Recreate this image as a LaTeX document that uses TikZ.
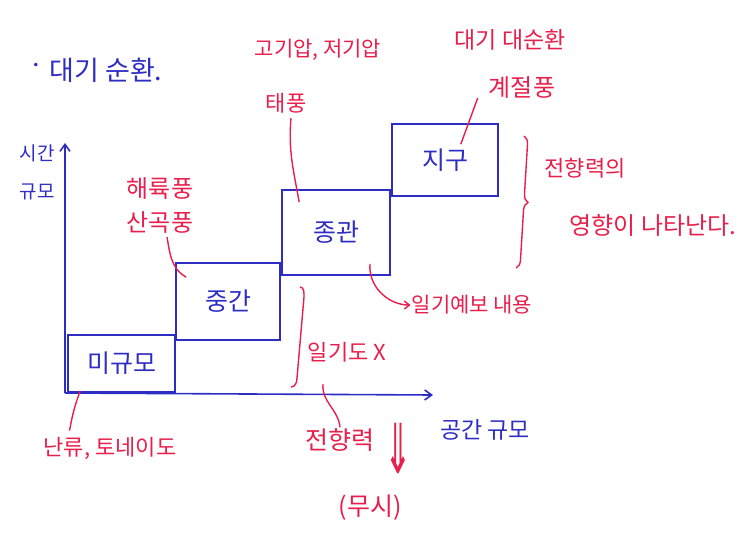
\documentclass[tikz,border=0pt]{standalone}
\usepackage{fontspec}
\newfontfamily\kr{Noto Sans CJK KR}
\newfontfamily\sym{DejaVu Sans}
\usetikzlibrary{arrows.meta,decorations.pathreplacing,calc}
\definecolor{pen}{RGB}{45,45,195}
\definecolor{ink}{RGB}{232,30,75}
\begin{document}
\begin{tikzpicture}[x=1pt,y=-1pt,
  btxt/.style={text=pen,font=\kr\fontsize{#1}{#1}\selectfont,inner sep=1pt},
  btxt/.default=20,
  rtxt/.style={text=ink,font=\kr\fontsize{#1}{#1}\selectfont,inner sep=1pt},
  rtxt/.default=21,
  scalebox/.style={draw=pen,line width=1.6pt,text=pen,font=\kr\fontsize{25}{28}\selectfont,inner sep=0pt},
  axis/.style={draw=pen,line width=1.6pt,-{Straight Barb[length=7pt,width=10pt]}},
  redline/.style={draw=ink,line width=1.4pt},
  redarrow/.style={redline,-{Straight Barb[length=5pt,width=8pt]}}]
\useasboundingbox (0,0) rectangle (743,538);
% axes
\coordinate (o) at (65,393);
\coordinate (ytip) at (65,143);
\coordinate (xtip) at (433,395);
\draw[axis] (o) -- (ytip);
\draw[axis] (o) -- (xtip);
% boxes
\node[scalebox,minimum width=107pt,minimum height=57pt] (mi) at (121.5,363.5) {미규모};
\node[scalebox,minimum width=104pt,minimum height=77pt] (jung) at (228,301.5) {중간};
\node[scalebox,minimum width=108pt,minimum height=85pt] (jong) at (336,232.5) {종관};
\node[scalebox,minimum width=106pt,minimum height=72pt] (jigu) at (445,160) {지구};
% blue texts
\node[text=pen,font=\sym\fontsize{12}{12}\selectfont] (bul) at (36,66) {•};
\node[btxt=27] (title) at (106,70) {대기 순환.};
\node[btxt=18,align=center,font=\kr\fontsize{19}{38}\selectfont] (ylab) at (37,172) {시간\\규모};
\node[btxt=23] (xlab) at (485,430) {공간 규모};
% red texts
\node[rtxt=21] (gogi) at (318,50) {고기압, 저기압};
\node[rtxt=22] (typh) at (286,103) {태풍};
\node[rtxt=23] (daegi) at (510,40) {대기 대순환};
\node[rtxt=24] (gyeol) at (522,88) {계절풍};
\node[rtxt=24,align=center,font=\kr\fontsize{24}{34}\selectfont] (haeryuk) at (160,206) {해륙풍\\산곡풍};
\node[rtxt=22] (ef1) at (585,168) {전향력의};
\node[rtxt=24] (ef2) at (653,225) {영향이 나타난다.};
\node[rtxt=21] (ilgi) at (472,305) {일기예보 내용};
\node[rtxt=22] (ilgido) at (347,352) {일기도 X};
\node[rtxt=25] (jeon) at (340,440) {전향력};
\node[text=ink,inner sep=0pt] (darr) at (398,448) {\scalebox{1.1}[2.3]{\sym\fontsize{30}{30}\selectfont ⇓}};
\node[rtxt=25] (musi) at (370,508) {(무시)};
\node[rtxt=22] (nanryu) at (110,448) {난류, 토네이도};
% connectors
\draw[redline] ($(typh.south)+(5,4)$) to[out=-95,in=100] ($(jong.north west)+(18,13)$);
\draw[redline] ($(gyeol.south west)+(-10,-2)$) -- ($(jigu.north east)+(-38,21)$);
\draw[redline] ($(haeryuk.south)+(7,2)$) to[out=-80,in=150] ($(jung.north west)+(11,15)$);
\draw[redline] ($(nanryu.north west)+(27,-5)$) to[out=80,in=-110] ($(mi.south west)+(13,-2)$);
\draw[redarrow] ($(jong.south)+(34,-12)$) to[out=-95,in=180] (ilgi.west);
\coordinate (jtop) at (323,384);
\draw[redline] (jeon.north) to[out=95,in=-95] (jtop);
% braces
\draw[redline,decorate,decoration={brace,amplitude=8pt}] (524,136) -- (516,268);
\coordinate (b1) at (300,287);
\coordinate (b2) at (291,387);
\draw[redline] (b1) to[out=0,in=90] (304,297) -- (297,378) to[out=-90,in=0] (b2);
\end{tikzpicture}
\end{document}
